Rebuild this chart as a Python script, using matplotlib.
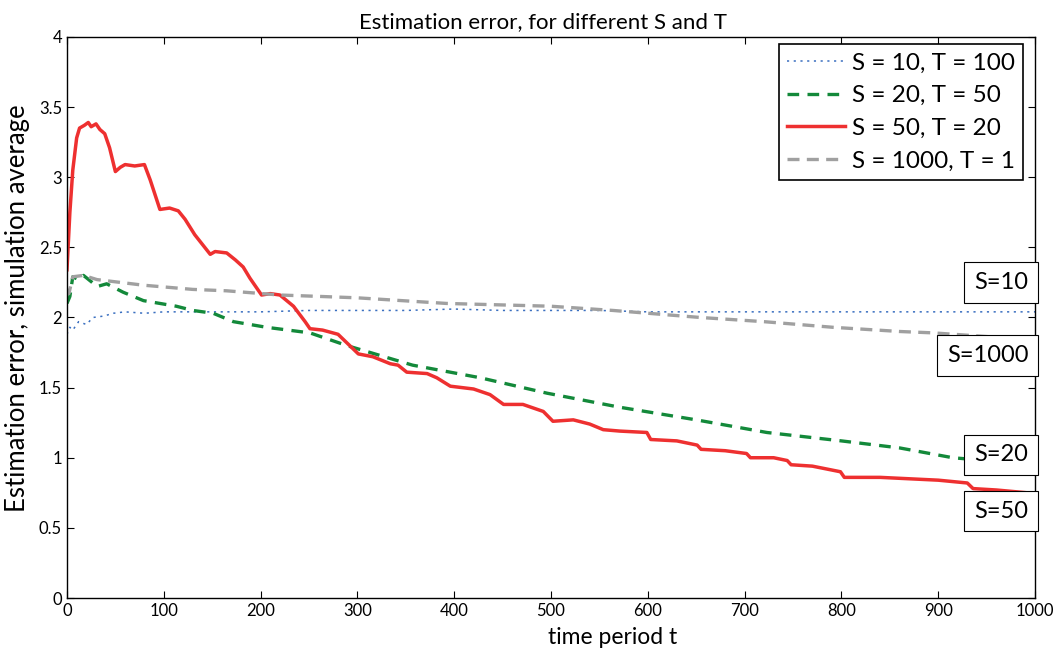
import matplotlib
matplotlib.use('Agg')
import matplotlib.pyplot as plt

plt.rcParams['font.family'] = ['Lato', 'DejaVu Sans']

# S = 10, T = 100 (blue dotted)
t_s10 = [0, 3, 6, 12, 20, 27, 38, 48, 60, 80, 100, 150, 200, 250, 300, 350, 400, 450, 500,
         550, 600, 650, 700, 750, 800, 850, 900, 950, 1000]
v_s10 = [1.88, 1.93, 1.91, 1.97, 1.95, 2.00, 2.01, 2.03, 2.04, 2.03, 2.04, 2.04, 2.04, 2.05, 2.05,
         2.05, 2.06, 2.05, 2.05, 2.05, 2.04, 2.04, 2.04, 2.04, 2.04, 2.04, 2.04, 2.04, 2.04]

# S = 20, T = 50 (green dashed)
t_s20 = [0, 3, 6, 12, 17, 26, 31, 41, 58, 79, 96, 113, 130, 151, 172, 206, 251, 289, 357, 427,
         496, 571, 650, 723, 800, 860, 915, 1000]
v_s20 = [2.10, 2.15, 2.29, 2.27, 2.30, 2.25, 2.22, 2.24, 2.18, 2.12, 2.10, 2.08, 2.05, 2.03, 1.97,
         1.93, 1.89, 1.80, 1.66, 1.57, 1.46, 1.36, 1.27, 1.18, 1.12, 1.07, 1.00, 0.95]

# S = 50, T = 20 (red solid)
t_s50 = [0, 3, 6, 10, 13, 18, 22, 25, 30, 34, 39, 44, 50, 55, 60, 70, 80, 86, 96, 106, 115, 122,
         132, 140, 148, 153, 165, 174, 182, 189, 195, 201, 210, 220, 234, 246, 251, 264, 280,
         292, 301, 316, 334, 342, 351, 372, 382, 396, 420, 437, 451, 471, 492, 502, 523, 540,
         554, 571, 599, 603, 630, 651, 655, 680, 702, 706, 730, 744, 748, 770, 799, 803, 840,
         870, 900, 930, 936, 960, 992, 1000]
v_s50 = [2.34, 2.75, 3.05, 3.28, 3.35, 3.37, 3.39, 3.36, 3.38, 3.34, 3.31, 3.21, 3.04, 3.07, 3.09,
         3.08, 3.09, 2.98, 2.77, 2.78, 2.76, 2.70, 2.59, 2.52, 2.45, 2.47, 2.46, 2.41, 2.36, 2.28,
         2.22, 2.16, 2.17, 2.16, 2.08, 1.97, 1.92, 1.91, 1.88, 1.80, 1.74, 1.72, 1.67, 1.66, 1.61,
         1.60, 1.57, 1.51, 1.49, 1.45, 1.38, 1.38, 1.33, 1.26, 1.27, 1.24, 1.20, 1.19, 1.18, 1.13,
         1.12, 1.09, 1.06, 1.05, 1.03, 1.00, 1.00, 0.98, 0.95, 0.94, 0.90, 0.86, 0.86, 0.85, 0.84,
         0.82, 0.78, 0.77, 0.75, 0.75]

# S = 1000, T = 1 (grey dashed)
t_s1000 = [0, 2, 6, 17, 31, 79, 130, 165, 220, 261, 300, 392, 500, 564, 654, 720, 791, 860,
           895, 958, 1000]
v_s1000 = [2.20, 2.17, 2.29, 2.30, 2.27, 2.23, 2.20, 2.19, 2.16, 2.15, 2.14, 2.10, 2.08, 2.05,
           2.00, 1.97, 1.93, 1.90, 1.89, 1.86, 1.85]

labels = ['S = 10, T = 100', 'S = 20, T = 50', 'S = 50, T = 20', 'S = 1000, T = 1']
tags = ['S=10', 'S=1000', 'S=20', 'S=50']
tag_y = [2.25, 1.73, 1.02, 0.62]

fig = plt.figure(figsize=(10.58, 6.57), dpi=100)
ax = fig.add_axes([0.0633, 0.0898, 0.915, 0.854])

ax.plot(t_s10, v_s10, color='#3a6fc0', lw=1.1, dashes=(1.4, 3.0), label=labels[0])
ax.plot(t_s20, v_s20, color='#13893a', lw=2.4, dashes=(3.5, 2.5), label=labels[1])
ax.plot(t_s50, v_s50, color='#ee3030', lw=2.5, label=labels[2])
ax.plot(t_s1000, v_s1000, color='#a0a0a0', lw=2.4, dashes=(3.6, 2.2), label=labels[3])

ax.set_xlim(0, 1000)
ax.set_ylim(0, 4)
ax.set_xticks(range(0, 1001, 100))
ax.set_yticks([0, 0.5, 1, 1.5, 2, 2.5, 3, 3.5, 4])
ax.set_yticklabels(['0', '0.5', '1', '1.5', '2', '2.5', '3', '3.5', '4'])
ax.tick_params(direction='in', top=True, right=True, labelsize=12, length=5)
for sp in ax.spines.values():
    sp.set_linewidth(1.0)

ax.set_title('Estimation error, for different S and T', fontsize=16, pad=6, x=0.492)
ax.set_xlabel('time period t', fontsize=16.5)
ax.xaxis.set_label_coords(0.564, -0.052, transform=ax.transAxes)
ax.xaxis.label.set_va('top')
ax.set_ylabel('Estimation error, simulation average', fontsize=18.5)
ax.yaxis.set_label_coords(-0.038, 0.517)

leg = ax.legend(loc='upper right', bbox_to_anchor=(0.9876, 0.9875), fontsize=17.5,
                fancybox=False, edgecolor='black', framealpha=1, handlelength=2.4,
                handletextpad=0.25, borderpad=0.35, labelspacing=0.48, borderaxespad=0)
leg.get_frame().set_linewidth(1.2)

for tag, y in zip(tags, tag_y):
    ax.text(993, y, tag, fontsize=17, ha='right', va='center', zorder=10,
            bbox=dict(boxstyle='square,pad=0.42', facecolor='white', edgecolor='black', lw=0.8))

fig.savefig('out.png', dpi=100)
